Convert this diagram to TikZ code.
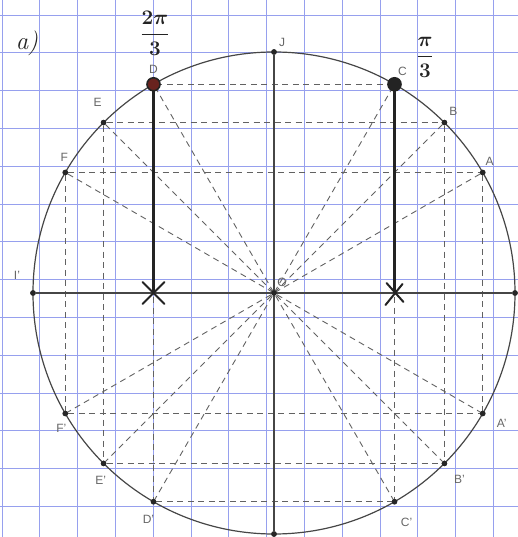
\documentclass[tikz,border=0pt]{standalone}
\usepackage{amsmath}
\usepackage{fontspec}
\setsansfont{Liberation Sans}
\usetikzlibrary{positioning}

\definecolor{gridblue}{RGB}{150,160,238}
\definecolor{pencil}{RGB}{70,70,70}
\definecolor{ink}{RGB}{35,35,35}
\definecolor{inkred}{RGB}{105,35,30}

\tikzset{
  gridline/.style={gridblue, line width=0.7pt},
  helpline/.style={pencil!85, line width=0.9pt, dash pattern=on 6pt off 4.5pt},
  axisline/.style={pencil, line width=1.2pt},
  dot/.style={circle, fill=black!85, inner sep=0pt, minimum size=5.5pt},
  ptlabel/.style={font=\sffamily\large, text=black!60, inner sep=0pt},
  handline/.style={ink, line width=2.4pt},
  cross/.style={ink, line width=2pt, line cap=round},
  handtext/.style={text=ink, inner sep=0pt},
}

\begin{document}
\begin{tikzpicture}[x=1pt, y=1pt]
  \useasboundingbox (-274,-244) rectangle (244,293);
  % squared paper
  \begin{scope}
    \clip (-274,-244) rectangle (244,293);
    \draw[gridline, shift={(-7.4,13.4)}, step=37.8] (-300,-300) grid (300,300);
  \end{scope}

  % points of the circle
  \def\R{241}
  \node[dot] (O) at (0,0) {};
  \foreach \a/\n in {30/A, 45/B, 60/C, 90/J, 120/D, 135/E, 150/F, 180/I1,
                     210/F1, 225/E1, 240/D1, 270/J1, 300/C1, 315/B1, 330/A1, 0/I}
    \node[dot] (\n) at (\a:\R) {};

  % projections
  \foreach \p/\q in {D/C, E/B, F/A, F1/A1, E1/B1, D1/C1,
                     D/D1, C/C1, E/E1, B/B1, F/F1, A/A1,
                     A/F1, B/E1, C/D1, D/C1, E/B1, F/A1}
    \draw[helpline] (\p) -- (\q);

  % circle and axes
  \draw[axisline] (O) circle (\R);
  \draw[axisline] (I1) -- (I);
  \draw[axisline] (J) -- (J1);
  \foreach \n in {O, A, B, C, J, D, E, F, I1, F1, E1, D1, J1, C1, B1, A1, I}
    \node[dot] at (\n) {};

  % labels
  \foreach \n/\t/\dx/\dy in {A/A/7/11, B/B/9/11, C/C/8/13, J/J/8/10, D/D/0/15,
                             E/E/-6/20, F/F/-1/15, I1/I'/-16/18, O/O/8/11,
                             F1/F'/-4/-15, E1/E'/-3/-17, D1/D'/-5/-18,
                             C1/C'/12/-21, B1/B'/15/-16, A1/A'/19/-10}
    \node[ptlabel] (l\n) at ([shift={(\dx,\dy)}]\n) {\t};

  % pen marks
  \coordinate (xD) at (D |- O);
  \coordinate (xC) at (C |- O);
  \draw[handline] (D) -- (xD);
  \draw[handline] (C) -- (xC);
  \draw[cross] ([shift={(-11,-11)}]xD) -- ([shift={(11,11)}]xD)
               ([shift={(-11,11)}]xD) -- ([shift={(11,-11)}]xD);
  \draw[cross] ([shift={(-9,-12)}]xC) -- ([shift={(8,9)}]xC)
               ([shift={(-8,10)}]xC) -- ([shift={(9,-9)}]xC);
  \draw[ink, line width=1.6pt, fill=inkred] (D) circle (6.5);
  \draw[ink, line width=1.6pt, fill=ink] (C) circle (6.5);
  \node[handtext, font=\Huge\itshape] (part) at (-247,250) {a)};
  \node[handtext, font=\huge\boldmath] (tDD) at (-119,260) {$\dfrac{2\pi}{3}$};
  \node[handtext, font=\huge\boldmath] (tCC) at (151,236) {$\dfrac{\pi}{3}$};
\end{tikzpicture}
\end{document}
